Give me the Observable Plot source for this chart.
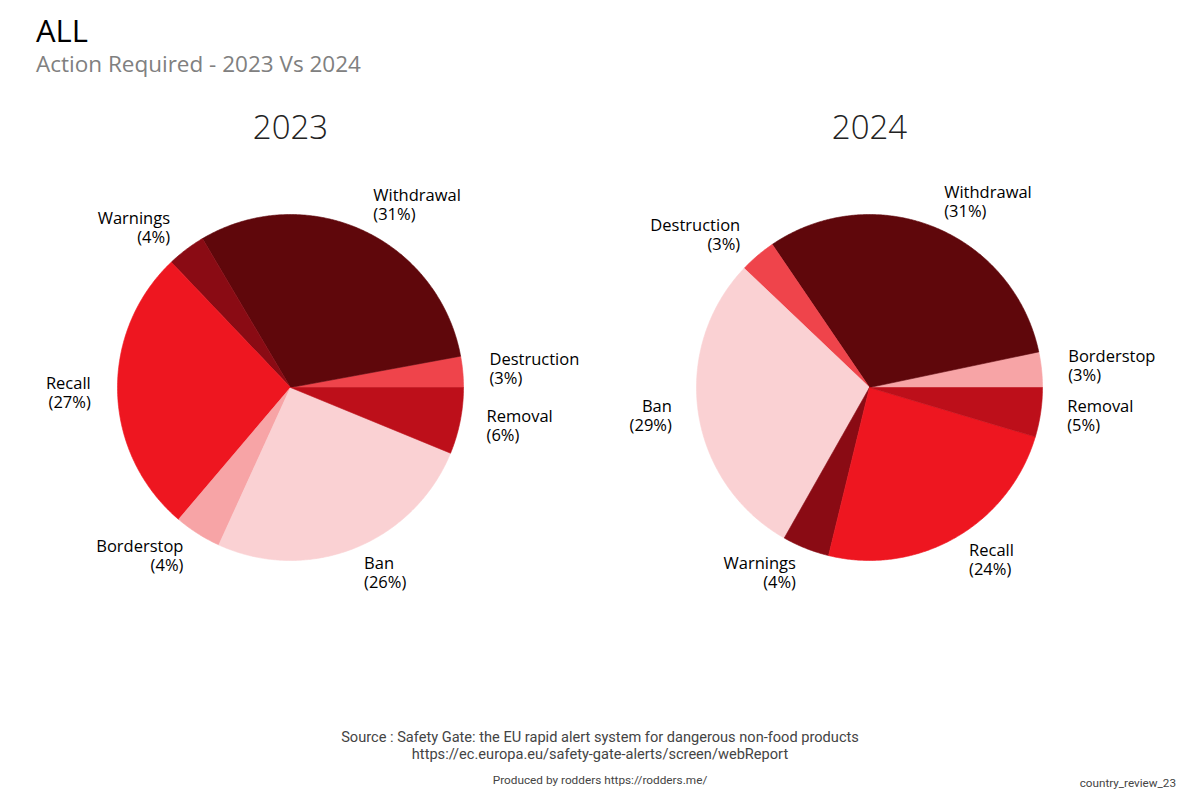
<!DOCTYPE html>
<html>
<head>
<meta charset="utf-8">
<script src="https://cdn.jsdelivr.net/npm/d3@7"></script>
<script src="https://cdn.jsdelivr.net/npm/@observablehq/plot@0.6"></script>
<style>
  html, body { margin: 0; padding: 0; background: #fff; }
  #wrap { position: relative; width: 1200px; height: 800px; overflow: hidden; background: #fff; }
  #chart { position: absolute; left: 0; top: 0; }
  .t { position: absolute; white-space: nowrap; line-height: 1; }
  #title { left: 36px; top: 9px; font: 31px "Open Sans"; color: #000; }
  #subtitle { left: 36px; top: 48px; font: 22.5px "Open Sans"; color: #808080; }
  #source { left: 0; width: 1200px; top: 729px; text-align: center; font: 14.6px Roboto; line-height: 17px; color: #444; }
  #produced { left: 0; width: 1200px; top: 773px; text-align: center; font: 11.8px Roboto; color: #444; }
  #tag { right: 24px; top: 776px; font: 11.7px Roboto; color: #444; }
</style>
</head>
<body>
<div id="wrap">
  <div id="chart"></div>
  <div class="t" id="title">ALL</div>
  <div class="t" id="subtitle">Action Required - 2023 Vs 2024</div>
  <div class="t" id="source">Source : Safety Gate: the EU rapid alert system for dangerous non-food products<br>https://ec.europa.eu/safety-gate-alerts/screen/webReport</div>
  <div class="t" id="produced">Produced by rodders https://rodders.me/</div>
  <div class="t" id="tag">country_review_23</div>
</div>
<script>
// ---- data ----
const years = ["2023", "2024"];
const labels2023 = ["Destruction", "Withdrawal", "Warnings", "Recall", "Borderstop", "Ban", "Removal"];
const values2023 = [2.9, 30.6, 3.6, 26.7, 4.4, 25.6, 6.2];
const labels2024 = ["Borderstop", "Withdrawal", "Destruction", "Ban", "Warnings", "Recall", "Removal"];
const values2024 = [3.3, 31.2, 3.4, 28.9, 4.4, 24.2, 4.6];
const categories = ["Withdrawal", "Warnings", "Recall", "Borderstop", "Ban", "Removal", "Destruction"];
const colors = ["#5f070b", "#8a0b14", "#ee1620", "#f7a4a6", "#fad1d3", "#bd0f1a", "#ef444b"];

// ---- layout ----
const W = 1200, H = 800;
const centersX = [290, 869];
const centerY = 387;
const R = 173;
const labelDist = 1.155;

const series = [
  {year: years[0], labels: labels2023, values: values2023},
  {year: years[1], labels: labels2024, values: values2024}
];

const slicePts = [];
const labelRows = [];
const titleRows = [];
series.forEach((s, si) => {
  const cx = centersX[si];
  const total = d3.sum(s.values);
  titleRows.push({x: cx, y: 128, text: s.year});
  let a = 0;
  s.labels.forEach((cat, i) => {
    const span = s.values[i] / total * 360;
    const a0 = a, a1 = a + span;
    a = a1;
    const key = s.year + "-" + cat;
    const toRad = Math.PI / 180;
    slicePts.push({key, cat, x: cx, y: centerY});
    const n = Math.max(2, Math.ceil(span / 0.5));
    for (let k = 0; k <= n; k++) {
      const t = (a0 + (a1 - a0) * k / n) * toRad;
      slicePts.push({key, cat, x: cx + R * Math.cos(t), y: centerY - R * Math.sin(t)});
    }
    slicePts.push({key, cat, x: cx, y: centerY});
    const m = (a0 + a1) / 2 * toRad;
    const lx = cx + R * labelDist * Math.cos(m);
    const ly = centerY - R * labelDist * Math.sin(m);
    const pct = Math.round(s.values[i] / total * 100);
    labelRows.push({x: lx, y: ly, side: Math.cos(m) >= 0 ? "right" : "left", text: `${cat}\n(${pct}%)`});
  });
});

const chart = Plot.plot({
  width: W,
  height: H,
  margin: 0,
  style: {fontFamily: "Open Sans", background: "transparent", overflow: "visible"},
  x: {domain: [0, W], range: [0, W], axis: null},
  y: {domain: [0, H], range: [0, H], axis: null},
  color: {domain: categories, range: colors},
  marks: [
    Plot.line(slicePts, {x: "x", y: "y", z: "key", fill: "cat", stroke: "cat", strokeWidth: 0.6, curve: "linear"}),
    Plot.text(labelRows.filter(d => d.side === "right"), {x: "x", y: "y", dy: -1, text: "text", textAnchor: "start", fontSize: 16.5, lineHeight: 1.15, fill: "#000"}),
    Plot.text(labelRows.filter(d => d.side === "left"), {x: "x", y: "y", dy: -1, text: "text", textAnchor: "end", fontSize: 16.5, lineHeight: 1.15, fill: "#000"}),
    Plot.text(titleRows, {x: "x", y: "y", text: "text", fontSize: 33, fontWeight: 300, fill: "#222"})
  ]
});
document.getElementById("chart").appendChild(chart);
</script>
</body>
</html>
